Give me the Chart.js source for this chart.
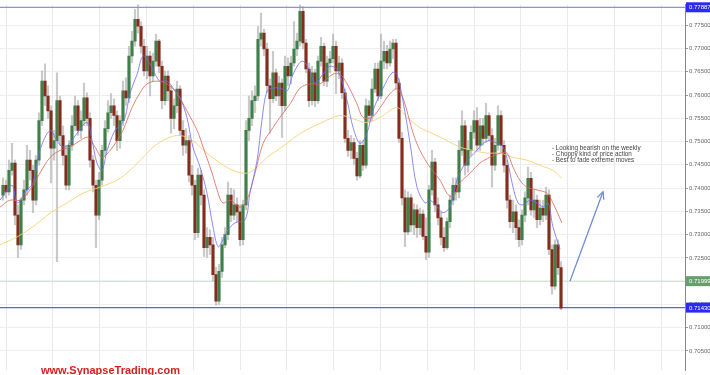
<!DOCTYPE html>
<html>
<head>
<meta charset="utf-8">
<script src="https://cdn.jsdelivr.net/npm/chart.js@4.4.1/dist/chart.umd.min.js"></script>
<style>
  body { margin: 0; background: #fff; overflow: hidden; }
  #wrap { position: relative; width: 710px; height: 375px; }
  #note { position: absolute; left: 552px; top: 145px; font: 6.3px 'Liberation Sans', Arial, sans-serif; line-height: 6px; color: #444; white-space: pre; }
  #brand { position: absolute; left: 41px; top: 364px; font: bold 11px 'Liberation Sans', Arial, sans-serif; line-height: 12px; color: #d42121; }
</style>
</head>
<body>
<div id="wrap">
  <canvas id="chart" width="710" height="375"></canvas>
  <div id="note">- Looking bearish on the weekly
- Choppy kind of price action
- Best to fade extreme moves</div>
  <div id="brand">www.SynapseTrading.com</div>
</div>
<script>
// candles, one per bar, oldest first
const openP = [
  0.7385,0.7406,0.7392,0.7438,0.7454,0.7342,0.7278,0.7374,0.7396,0.7460,
  0.7438,0.7374,0.7460,0.7545,0.7630,0.7598,0.7566,0.7486,0.7502,0.7588,
  0.7513,0.7470,0.7406,0.7492,0.7534,0.7577,0.7524,0.7545,0.7594,0.7550,
  0.7460,0.7406,0.7342,0.7417,0.7481,0.7528,0.7562,0.7577,0.7556,0.7502,
  0.7545,0.7609,0.7594,0.7684,0.7716,0.7763,0.7748,0.7705,0.7652,0.7684,
  0.7641,0.7673,0.7716,0.7662,0.7588,0.7641,0.7609,0.7550,0.7577,0.7613,
  0.7524,0.7492,0.7502,0.7428,0.7406,0.7304,0.7428,0.7385,0.7272,0.7294,
  0.7278,0.7214,0.7157,0.7221,0.7278,0.7300,0.7385,0.7342,0.7364,0.7349,
  0.7289,0.7364,0.7524,0.7550,0.7588,0.7598,0.7720,0.7733,0.7699,0.7620,
  0.7592,0.7648,0.7598,0.7626,0.7577,0.7662,0.7641,0.7669,0.7699,0.7716,
  0.7780,0.7712,0.7656,0.7588,0.7648,0.7588,0.7673,0.7705,0.7630,0.7669,
  0.7678,0.7705,0.7652,0.7669,0.7605,0.7507,0.7481,0.7498,0.7464,0.7426,
  0.7492,0.7449,0.7577,0.7556,0.7613,0.7656,0.7598,0.7673,0.7694,0.7669,
  0.7699,0.7712,0.7626,0.7507,0.7379,0.7306,0.7379,0.7321,0.7353,0.7315,
  0.7344,0.7296,0.7262,0.7396,0.7456,0.7364,0.7336,0.7294,0.7272,0.7328,
  0.7374,0.7406,0.7392,0.7481,0.7534,0.7449,0.7481,0.7520,0.7545,0.7492,
  0.7534,0.7507,0.7556,0.7513,0.7449,0.7492,0.7556,0.7492,0.7449,0.7374,
  0.7328,0.7349,0.7315,0.7289,0.7342,0.7379,0.7421,0.7353,0.7374,0.7332,
  0.7357,0.7342,0.7385,0.7268,0.7189,0.7278,0.7229
];
const highP = [
  0.7422,0.7417,0.7460,0.7496,0.7460,0.7364,0.7379,0.7417,0.7492,0.7481,
  0.7449,0.7470,0.7562,0.7652,0.7667,0.7620,0.7577,0.7524,0.7648,0.7598,
  0.7534,0.7492,0.7502,0.7556,0.7598,0.7588,0.7566,0.7626,0.7605,0.7562,
  0.7470,0.7417,0.7434,0.7492,0.7545,0.7588,0.7603,0.7592,0.7566,0.7556,
  0.7630,0.7637,0.7705,0.7737,0.7784,0.7795,0.7758,0.7720,0.7705,0.7694,
  0.7690,0.7731,0.7720,0.7673,0.7652,0.7652,0.7620,0.7592,0.7630,0.7620,
  0.7545,0.7528,0.7513,0.7449,0.7417,0.7443,0.7438,0.7396,0.7315,0.7310,
  0.7294,0.7230,0.7236,0.7294,0.7315,0.7413,0.7400,0.7396,0.7379,0.7364,
  0.7374,0.7545,0.7598,0.7609,0.7620,0.7748,0.7776,0.7742,0.7712,0.7635,
  0.7694,0.7656,0.7641,0.7635,0.7684,0.7680,0.7684,0.7758,0.7733,0.7795,
  0.7790,0.7720,0.7669,0.7662,0.7656,0.7684,0.7724,0.7712,0.7684,0.7694,
  0.7731,0.7716,0.7684,0.7678,0.7613,0.7524,0.7513,0.7507,0.7477,0.7502,
  0.7502,0.7592,0.7588,0.7635,0.7669,0.7669,0.7731,0.7716,0.7707,0.7716,
  0.7720,0.7720,0.7635,0.7520,0.7396,0.7392,0.7387,0.7366,0.7364,0.7357,
  0.7353,0.7336,0.7406,0.7481,0.7464,0.7379,0.7349,0.7315,0.7336,0.7385,
  0.7422,0.7422,0.7502,0.7566,0.7545,0.7502,0.7534,0.7566,0.7573,0.7550,
  0.7550,0.7582,0.7562,0.7528,0.7507,0.7577,0.7566,0.7502,0.7460,0.7385,
  0.7374,0.7364,0.7332,0.7353,0.7392,0.7445,0.7434,0.7396,0.7385,0.7374,
  0.7374,0.7402,0.7396,0.7278,0.7289,0.7289,0.7242
];
const lowP = [
  0.7374,0.7379,0.7385,0.7428,0.7321,0.7251,0.7268,0.7364,0.7385,0.7417,
  0.7347,0.7364,0.7449,0.7534,0.7577,0.7550,0.7411,0.7460,0.7242,0.7492,
  0.7449,0.7396,0.7396,0.7481,0.7524,0.7513,0.7507,0.7534,0.7534,0.7445,
  0.7392,0.7272,0.7332,0.7406,0.7470,0.7520,0.7550,0.7534,0.7481,0.7486,
  0.7534,0.7577,0.7584,0.7669,0.7705,0.7733,0.7690,0.7641,0.7635,0.7598,
  0.7630,0.7662,0.7648,0.7571,0.7579,0.7588,0.7518,0.7528,0.7562,0.7513,
  0.7470,0.7475,0.7413,0.7385,0.7289,0.7294,0.7364,0.7253,0.7251,0.7257,
  0.7200,0.7148,0.7150,0.7208,0.7272,0.7289,0.7328,0.7332,0.7328,0.7276,
  0.7278,0.7353,0.7502,0.7534,0.7562,0.7588,0.7705,0.7684,0.7605,0.7518,
  0.7584,0.7588,0.7577,0.7509,0.7566,0.7620,0.7624,0.7662,0.7684,0.7705,
  0.7699,0.7648,0.7575,0.7579,0.7575,0.7582,0.7662,0.7620,0.7618,0.7648,
  0.7669,0.7603,0.7635,0.7592,0.7498,0.7468,0.7464,0.7451,0.7417,0.7422,
  0.7438,0.7443,0.7541,0.7545,0.7605,0.7588,0.7592,0.7656,0.7656,0.7662,
  0.7678,0.7613,0.7498,0.7364,0.7274,0.7300,0.7306,0.7300,0.7294,0.7300,
  0.7289,0.7246,0.7251,0.7385,0.7349,0.7321,0.7278,0.7264,0.7268,0.7315,
  0.7364,0.7374,0.7379,0.7470,0.7428,0.7434,0.7470,0.7507,0.7481,0.7481,
  0.7492,0.7498,0.7502,0.7402,0.7438,0.7481,0.7477,0.7434,0.7357,0.7315,
  0.7304,0.7289,0.7274,0.7278,0.7328,0.7364,0.7342,0.7336,0.7315,0.7321,
  0.7328,0.7332,0.7257,0.7172,0.7182,0.7214,0.7138
];
const closeP = [
  0.7406,0.7392,0.7438,0.7454,0.7342,0.7278,0.7374,0.7396,0.7460,0.7438,
  0.7374,0.7460,0.7545,0.7630,0.7598,0.7566,0.7486,0.7502,0.7588,0.7513,
  0.7470,0.7406,0.7492,0.7534,0.7577,0.7524,0.7545,0.7594,0.7550,0.7460,
  0.7406,0.7342,0.7417,0.7481,0.7528,0.7562,0.7577,0.7556,0.7502,0.7545,
  0.7609,0.7594,0.7684,0.7716,0.7763,0.7748,0.7705,0.7652,0.7684,0.7641,
  0.7673,0.7716,0.7662,0.7588,0.7641,0.7609,0.7550,0.7577,0.7613,0.7524,
  0.7492,0.7502,0.7428,0.7406,0.7304,0.7428,0.7385,0.7272,0.7294,0.7278,
  0.7214,0.7157,0.7221,0.7278,0.7300,0.7385,0.7342,0.7364,0.7349,0.7289,
  0.7364,0.7524,0.7550,0.7588,0.7598,0.7720,0.7733,0.7699,0.7620,0.7592,
  0.7648,0.7598,0.7626,0.7577,0.7662,0.7641,0.7669,0.7699,0.7716,0.7780,
  0.7712,0.7656,0.7588,0.7648,0.7588,0.7673,0.7705,0.7630,0.7669,0.7678,
  0.7705,0.7652,0.7669,0.7605,0.7507,0.7481,0.7498,0.7464,0.7426,0.7492,
  0.7449,0.7577,0.7556,0.7613,0.7656,0.7598,0.7673,0.7694,0.7669,0.7699,
  0.7712,0.7626,0.7507,0.7379,0.7306,0.7379,0.7321,0.7353,0.7315,0.7344,
  0.7296,0.7262,0.7396,0.7456,0.7364,0.7336,0.7294,0.7272,0.7328,0.7374,
  0.7406,0.7392,0.7481,0.7534,0.7449,0.7481,0.7520,0.7545,0.7492,0.7534,
  0.7507,0.7556,0.7513,0.7449,0.7492,0.7556,0.7492,0.7449,0.7374,0.7328,
  0.7349,0.7315,0.7289,0.7342,0.7379,0.7421,0.7353,0.7374,0.7332,0.7357,
  0.7342,0.7385,0.7268,0.7189,0.7278,0.7229,0.7142
];

// moving averages (bar index, price)
const blueX = [-1,3,4.7,8,10,12.3,15.7,18,20,22.3,24.7,28,29.7,31.3,33,34.7,37.3,39,40.7,42.3,44.7,46.7,49,50.7,52.3,54.7,56.7,59,61.3,63.3,65.7,68,70,71.7,73.3,75,77.3,80.7,82.3,84.7,86.3,88,90,92.3,94.7,96.7,99.7,102.3,104,106.7,109,111.7,114.7,116.7,119,121.3,123.3,126.7,129.7,131.3,133.3,135.7,138,140.7,142.3,144.7,146.7,149,151.3,153.3,155.7,158,160,162.3,164.7,166.7,168.3,170,171.7,173.3,175.7,178,180,181.7,183.3,185.7];
const blueY = [0.7374,0.7406,0.7368,0.7396,0.7411,0.7481,0.7524,0.7502,0.7488,0.7496,0.7518,0.7541,0.7502,0.7454,0.7438,0.7481,0.7524,0.7534,0.7552,0.7603,0.7645,0.7684,0.7667,0.7645,0.7630,0.7630,0.7615,0.7594,0.7552,0.7488,0.7445,0.7389,0.7317,0.7274,0.7289,0.7310,0.7325,0.7332,0.7389,0.7460,0.7545,0.7609,0.7615,0.7615,0.7609,0.7645,0.7673,0.7652,0.7626,0.7645,0.7662,0.7652,0.7588,0.7530,0.7496,0.7518,0.7566,0.7615,0.7648,0.7645,0.7588,0.7496,0.7402,0.7368,0.7374,0.7360,0.7347,0.7360,0.7417,0.7445,0.7466,0.7481,0.7496,0.7502,0.7496,0.7488,0.7454,0.7402,0.7368,0.7364,0.7374,0.7368,0.7360,0.7368,0.7317,0.7268];
const redX = [-1,2.3,5.7,9,12.3,15.7,19,22.3,25.7,28.3,30.7,33,35.7,38,40,43,45.7,48,51.3,54.7,58,61.3,64.7,66.7,69.7,71.7,73.3,75.7,79,81.3,84,86.7,90,92.3,95.7,99,102.3,105.7,110,112.3,114.7,118,120,123,125.7,129,131.3,133.3,136.7,139,142.3,145.7,148,150,152.3,155.7,159,162.3,165.7,168,170,172.3,174.7,178,181.3,183.3,186.3];
const redY = [0.7359,0.7374,0.7374,0.7396,0.7432,0.7466,0.7481,0.7488,0.7502,0.7509,0.7488,0.7466,0.7481,0.7502,0.7524,0.7573,0.7605,0.7624,0.7630,0.7624,0.7603,0.7566,0.7524,0.7488,0.7432,0.7389,0.7368,0.7374,0.7359,0.7374,0.7432,0.7496,0.7530,0.7552,0.7581,0.7615,0.7624,0.7624,0.7645,0.7645,0.7624,0.7581,0.7552,0.7552,0.7573,0.7603,0.7613,0.7594,0.7518,0.7481,0.7445,0.7417,0.7389,0.7381,0.7411,0.7432,0.7454,0.7466,0.7475,0.7475,0.7445,0.7417,0.7402,0.7396,0.7389,0.7368,0.7325];
const yelX = [-1,4.7,10,15.7,21.3,26.7,32.3,38,42.3,47.3,50,54.7,59,63.3,68,72.3,76.7,81.3,84.7,88,92.3,99,105.7,112.3,116.7,121.3,125.7,131.3,134.7,139,143.3,148,152.3,156.7,161.3,165.7,170,174.7,179,183.3,186.3];
const yelY = [0.7278,0.7295,0.7317,0.7346,0.7368,0.7389,0.7402,0.7417,0.7438,0.7470,0.7488,0.7507,0.7513,0.7502,0.7475,0.7454,0.7438,0.7432,0.7445,0.7466,0.7485,0.7517,0.7539,0.7556,0.7549,0.7541,0.7552,0.7573,0.7552,0.7530,0.7517,0.7502,0.7488,0.7481,0.7475,0.7475,0.7466,0.7460,0.7449,0.7438,0.7421];

// drawn levels and the arrow
const levelVals = [0.77887, 0.71999, 0.71430];
const levelLine = ['#8c8cf7', '#c3e2c7', '#5f5fee'];
const levelTag = ['#2a2af0', '#62a06c', '#2a2af0'];
const arrowX = [189, 200];
const arrowY = [0.7200, 0.7392];

const X_MIN = -1, X_MAX = 227.33;

const toPts = (xs, ys) => xs.map((x, i) => ({ x: x, y: ys[i] }));
const levelDs = levelVals.map((v, k) => ({
    type: 'line',
    data: [{ x: X_MIN, y: v }, { x: X_MAX, y: v }],
    borderColor: levelLine[k],
    borderWidth: k === 1 ? 1 : 1.3,
    pointRadius: 0,
    order: 5
}));

const overlay = {
    id: 'overlay',
    afterDraw: (chart) => {
        const ctx = chart.ctx;
        const xs = chart.scales.x, ys = chart.scales.y;

        // arrow head
        const x1 = xs.getPixelForValue(arrowX[0]), y1 = ys.getPixelForValue(arrowY[0]);
        const x2 = xs.getPixelForValue(arrowX[1]), y2 = ys.getPixelForValue(arrowY[1]);
        const a = Math.atan2(y2 - y1, x2 - x1);
        ctx.save();
        ctx.strokeStyle = '#7089d8';
        ctx.lineWidth = 1.3;
        ctx.beginPath();
        ctx.moveTo(x2 - 8 * Math.cos(a - 0.45), y2 - 8 * Math.sin(a - 0.45));
        ctx.lineTo(x2, y2);
        ctx.lineTo(x2 - 8 * Math.cos(a + 0.45), y2 - 8 * Math.sin(a + 0.45));
        ctx.stroke();

        // price tags on the axis
        ctx.font = '6px "Liberation Sans", Arial, sans-serif';
        ctx.textBaseline = 'middle';
        levelVals.forEach((v, k) => {
            const y = ys.getPixelForValue(v);
            ctx.fillStyle = levelTag[k];
            ctx.fillRect(ys.left + 1, y - 5, ys.width, 10);
            ctx.fillStyle = '#fff';
            ctx.fillText(v.toFixed(5), ys.left + 4, y + 0.5);
        });
        ctx.restore();
    }
};

new Chart(document.getElementById('chart'), {
    type: 'bar',
    data: {
        datasets: [
            {
                type: 'line',
                data: toPts(arrowX, arrowY),
                borderColor: '#7089d8',
                borderWidth: 1.3,
                pointRadius: 0,
                order: 0
            },
            {
                type: 'line',
                data: toPts(blueX, blueY),
                borderColor: 'rgba(110, 110, 245, 0.8)',
                borderWidth: 1,
                pointRadius: 0,
                tension: 0.35,
                order: 1
            },
            {
                type: 'line',
                data: toPts(redX, redY),
                borderColor: 'rgba(222, 100, 90, 0.8)',
                borderWidth: 1,
                pointRadius: 0,
                tension: 0.35,
                order: 1
            },
            {
                type: 'line',
                data: toPts(yelX, yelY),
                borderColor: 'rgba(246, 208, 120, 0.9)',
                borderWidth: 1,
                pointRadius: 0,
                tension: 0.35,
                order: 1
            },
            {
                data: openP.map((o, i) => ({ x: i, y: [o, closeP[i]] })),
                backgroundColor: openP.map((o, i) => closeP[i] >= o ? '#3f7f49' : '#842d1d'),
                barThickness: 2.5,
                grouped: false,
                order: 2
            },
            {
                data: lowP.map((l, i) => ({ x: i, y: [l, highP[i]] })),
                backgroundColor: 'rgba(150, 150, 150, 0.5)',
                barThickness: 1.5,
                grouped: false,
                order: 3
            },
            ...levelDs
        ]
    },
    options: {
        responsive: false,
        devicePixelRatio: 1,
        animation: false,
        layout: { padding: 0 },
        plugins: {
            legend: { display: false },
            tooltip: { enabled: false }
        },
        scales: {
            x: {
                type: 'linear',
                min: X_MIN,
                max: X_MAX,
                offset: false,
                grid: { color: '#e9e9e9', offset: false, drawTicks: false },
                border: { display: false },
                ticks: { display: false },
                afterBuildTicks: (s) => {
                    const t = [];
                    for (let v = 1; v < s.max; v += 15.6) t.push({ value: v });
                    s.ticks = t;
                },
                afterFit: (s) => { s.height = 0; }
            },
            y: {
                position: 'right',
                min: 0.70080,
                max: 0.77945,
                grid: { color: '#eeeeee', tickLength: 3, tickColor: '#999' },
                border: { display: true, color: '#888' },
                ticks: {
                    stepSize: 0.005,
                    includeBounds: false,
                    padding: 1,
                    color: '#666',
                    font: { family: 'Liberation Sans', size: 6 },
                    callback: (v) => v.toFixed(5)
                },
                afterFit: (s) => { s.width = 25; }
            }
        }
    },
    plugins: [overlay]
});
</script>
</body>
</html>
